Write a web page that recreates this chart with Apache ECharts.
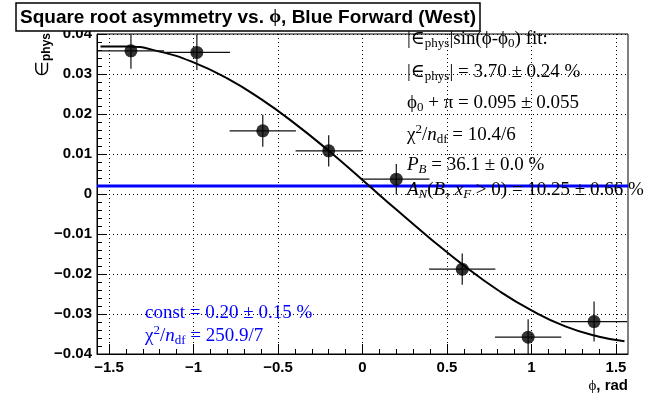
<!DOCTYPE html>
<html><head><meta charset="utf-8">
<script src="https://cdn.jsdelivr.net/npm/echarts@6/dist/echarts.min.js"></script>
<style>html,body{margin:0;padding:0;background:#fff}#chart{width:664px;height:397px}</style>
</head><body><div id="chart"></div>
<script>
// ---- data ----
const xCenters = [-1.37, -0.98, -0.59, -0.20, 0.20, 0.59, 0.98, 1.37];
const yValues  = [0.0358, 0.0354, 0.0158, 0.0108, 0.0037, -0.0188, -0.0358, -0.0319];
const xErrors  = [0.196, 0.196, 0.196, 0.196, 0.196, 0.196, 0.196, 0.196];
const yErrors  = [0.0045, 0.0044, 0.0040, 0.0039, 0.0038, 0.0039, 0.0045, 0.0050];
const fitX = [-1.55, -1.4, -1.2, -1.0, -0.8, -0.6, -0.4, -0.2, 0.0, 0.2, 0.4, 0.6, 0.8, 1.0, 1.2, 1.4, 1.55];
const fitY = [0.0369, 0.0369, 0.0356, 0.0329, 0.0289, 0.0237, 0.0176, 0.0108, 0.0035, -0.0039, -0.0111, -0.0179, -0.0240, -0.0291, -0.0331, -0.0357, -0.0368];
const constFit = 0.0020;
const xRange = [-1.5708, 1.5708];
const yRange = [-0.04, 0.04];
const yStep = 0.01;
const xTicks = [-1.5, -1, -0.5, 0, 0.5, 1, 1.5];
const xMinorTicks = [-1.4, -1.3, -1.2, -1.1, -0.9, -0.8, -0.7, -0.6, -0.4, -0.3, -0.2, -0.1,
                     0.1, 0.2, 0.3, 0.4, 0.6, 0.7, 0.8, 0.9, 1.1, 1.2, 1.3, 1.4];
const titleText = ['Square root asymmetry vs. ', 'ϕ', ', Blue Forward (West)'];
const statLines = [
  '{n||∈}{s|phys}{n||sin(ϕ-ϕ}{s|0}{n|) fit:}',
  '{n||∈}{s|phys}{n|| = 3.70 ± 0.24 %}',
  '{n|ϕ}{s|0}{n| + π = 0.095 ± 0.055}',
  '{n|χ}{p|2}{n|/}{i|n}{s|df}{n| = 10.4/6}',
  '{i|P}{si|B}{n| = 36.1 ± 0.0 %}',
  '{i|A}{si|N}{n|(}{i|B}{n|, }{i|x}{si|F}{n| > 0) = 10.25 ± 0.66 %}'
];
const constLines = [
  '{n|const = 0.20 ± 0.15 %}',
  '{n|χ}{p|2}{n|/}{i|n}{s|df}{n| = 250.9/7}'
];

// ---- styling ----
const SANS = "'Liberation Sans', Arial, Helvetica, sans-serif";
const SERIF = "'Liberation Serif', 'Times New Roman', 'DejaVu Serif', serif";
function richSet(color) {
  return {
    n:  {fontSize: 19, fontFamily: SERIF, fill: color, lineHeight: 30},
    i:  {fontSize: 19, fontFamily: SERIF, fontStyle: 'italic', fill: color, lineHeight: 30},
    s:  {fontSize: 13, fontFamily: SERIF, fill: color, lineHeight: 14, padding: [10, 0, 0, 0]},
    si: {fontSize: 13, fontFamily: SERIF, fontStyle: 'italic', fill: color, lineHeight: 14, padding: [10, 0, 0, 0]},
    p:  {fontSize: 13, fontFamily: SERIF, fill: color, lineHeight: 14, padding: [0, 0, 10, 0]}
  };
}
const statY = [39, 72, 103, 135, 165, 190];
const constY = [313, 336];

function fmtX(v) {
  if (Math.abs(v) < 1e-9) return '0';
  return (v < 0 ? '\u2212' : '') + String(Math.abs(v));
}
function fmtY(v) {
  if (Math.abs(v) < 1e-9) return '0';
  return (v < 0 ? '\u2212' : '') + Math.abs(v).toFixed(2);
}

const graphics = [];
statLines.forEach((t, k) => graphics.push({
  type: 'text', x: 407, y: statY[k], z: 100,
  style: {text: t, rich: richSet('#000'), align: 'left', verticalAlign: 'middle'}
}));
constLines.forEach((t, k) => graphics.push({
  type: 'text', x: 145, y: constY[k], z: 100,
  style: {text: t, rich: richSet('#0000ff'), align: 'left', verticalAlign: 'middle'}
}));
// y axis title
graphics.push({
  type: 'text', x: 43, y: 33, rotation: Math.PI / 2, z: 100,
  style: {
    text: '{e|∈}{ps|phys}', align: 'right', verticalAlign: 'middle',
    rich: {
      e:  {fontSize: 18, fontFamily: "'DejaVu Sans', sans-serif", fill: '#000', lineHeight: 22},
      ps: {fontSize: 12, fontFamily: SANS, fontWeight: 'bold', fill: '#000', lineHeight: 12, padding: [8, 0, 0, 0]}
    }
  }
});
// x axis title
graphics.push({
  type: 'text', x: 628, y: 386, z: 100,
  style: {
    text: '{g|ϕ}{b|, rad}', align: 'right', verticalAlign: 'middle',
    rich: {
      g: {fontSize: 15, fontFamily: SERIF, fill: '#000'},
      b: {fontSize: 15, fontFamily: SANS, fontWeight: 'bold', fill: '#000'}
    }
  }
});

const chart = echarts.init(document.getElementById('chart'), null, {renderer: 'canvas'});
chart.setOption({
  animation: false,
  backgroundColor: '#fff',
  title: {
    text: '{b|' + titleText[0] + '}{g|' + titleText[1] + '}{b|' + titleText[2] + '}',
    left: 16, top: 3,
    padding: [4, 4, 3, 4],
    borderColor: '#000', borderWidth: 1.5, backgroundColor: '#fff',
    textStyle: {
      fontSize: 19, lineHeight: 21, color: '#000',
      rich: {
        b: {fontSize: 19, fontFamily: SANS, fontWeight: 'bold', color: '#000', lineHeight: 21},
        g: {fontSize: 19, fontFamily: SERIF, color: '#000', lineHeight: 21}
      }
    }
  },
  grid: {
    left: 97, right: 36, top: 34, bottom: 43,
    show: true, borderColor: '#000', borderWidth: 1, backgroundColor: 'transparent',
    containLabel: false, outerBoundsMode: 'none'
  },
  xAxis: [{
    type: 'value', min: xRange[0], max: xRange[1], position: 'bottom',
    axisLine: {show: true, onZero: false, lineStyle: {color: '#000', width: 1}},
    axisTick: {show: true, inside: true, length: 10, customValues: xTicks, lineStyle: {color: '#000', width: 1}},
    axisLabel: {customValues: xTicks, formatter: fmtX, fontFamily: SANS, fontWeight: 'bold', fontSize: 15, color: '#000', margin: 6},
    splitLine: {show: true, lineStyle: {color: '#000', width: 1, type: [1, 3]}}
  }, {
    type: 'value', min: xRange[0], max: xRange[1], position: 'bottom',
    axisLine: {show: false, onZero: false},
    axisTick: {show: true, inside: true, length: 5, customValues: xMinorTicks, lineStyle: {color: '#000', width: 1}},
    axisLabel: {show: false},
    splitLine: {show: false}
  }],
  yAxis: {
    type: 'value', min: yRange[0], max: yRange[1], interval: yStep,
    axisLine: {show: true, onZero: false, lineStyle: {color: '#000', width: 1}},
    axisTick: {show: true, inside: true, length: 10, lineStyle: {color: '#000', width: 1}},
    minorTick: {show: true, splitNumber: 5, length: 5, lineStyle: {color: '#000', width: 1}},
    axisLabel: {formatter: fmtY, fontFamily: SANS, fontWeight: 'bold', fontSize: 15, color: '#000', margin: 5},
    splitLine: {show: true, lineStyle: {color: '#000', width: 1, type: [1, 3]}}
  },
  series: [{
    type: 'line', name: 'const',
    data: [[xRange[0], constFit], [xRange[1], constFit]],
    showSymbol: false, symbol: 'none',
    lineStyle: {color: '#0000ff', width: 3}, z: 3
  }, {
    type: 'line', name: 'fit',
    data: fitX.map((x, i) => [x, fitY[i]]),
    smooth: true, showSymbol: false, symbol: 'none',
    lineStyle: {color: '#000', width: 2}, z: 4
  }, {
    type: 'custom', name: 'errors',
    data: xCenters.map((x, i) => [x, yValues[i], xErrors[i], yErrors[i]]),
    encode: {x: 0, y: 1},
    clip: true, z: 5,
    renderItem: function (params, api) {
      const x = api.value(0), y = api.value(1), ex = api.value(2), ey = api.value(3);
      const l = api.coord([x - ex, y]), r = api.coord([x + ex, y]);
      const t = api.coord([x, y + ey]), b = api.coord([x, y - ey]);
      const st = {stroke: '#111', lineWidth: 1.2};
      return {type: 'group', children: [
        {type: 'line', shape: {x1: l[0], y1: l[1], x2: r[0], y2: r[1]}, style: st},
        {type: 'line', shape: {x1: t[0], y1: t[1], x2: b[0], y2: b[1]}, style: st}
      ]};
    }
  }, {
    type: 'scatter', name: 'points',
    data: xCenters.map((x, i) => [x, yValues[i]]),
    symbol: 'circle', symbolSize: 13,
    itemStyle: {color: '#000'}, z: 6
  }],
  graphic: graphics
});
</script>
</body></html>
